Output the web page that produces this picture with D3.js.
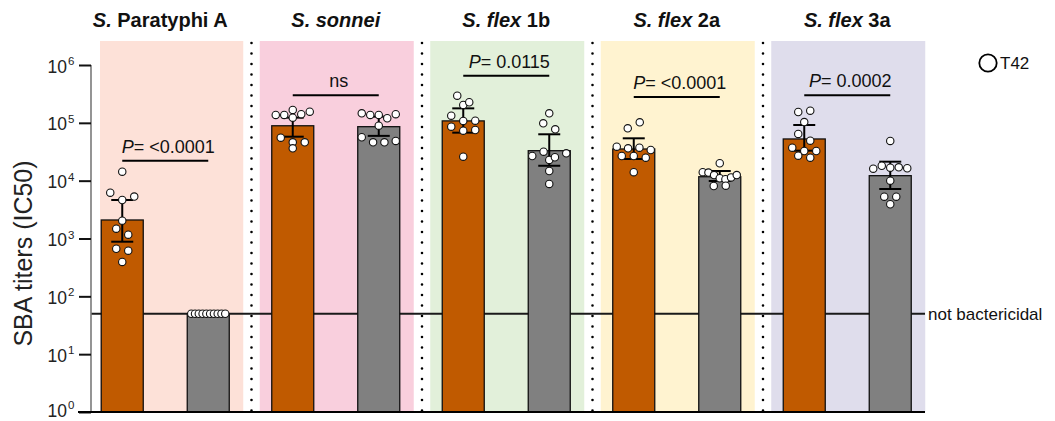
<!DOCTYPE html>
<html>
<head>
<meta charset="utf-8">
<script src="https://cdn.jsdelivr.net/npm/d3@7"></script>
<style>
  html, body { margin: 0; padding: 0; background: #fff; }
  svg { display: block; font-family: "Liberation Sans", Arial, sans-serif; }
</style>
</head>
<body>
<svg id="chart" width="1055" height="421"></svg>
<script>
// ---- data -------------------------------------------------------------
const groups = ["S. Paratyphi A", "S. sonnei", "S. flex 1b", "S. flex 2a", "S. flex 3a"];
// title pieces: [text, italic]
const titleParts = [
  [["S.", true], [" Paratyphi A", false]],
  [["S. sonnei", true]],
  [["S. flex", true], [" 1b", false]],
  [["S. flex", true], [" 2a", false]],
  [["S. flex", true], [" 3a", false]]
];
const series = ["seriesA", "seriesB"];

// geometric means (bars)
const barA = [2090, 89000, 108000, 35300, 52600];
const barB = [50, 85800, 33000, 11700, 12200];
// 95% CI of the geometric mean
const ciLowA  = [880, 57600, 67600, 23700, 33000];
const ciHighA = [4630, 123000, 178000, 54000, 91800];
const ciLowB  = [null, 59500, 18100, 9870, 7180];
const ciHighB = [null, 128000, 63400, 14700, 21300];

// individual titers
const pointsA = [
  [14300, 6200, 4630, 5300, 2030, 1480, 1165, 665, 615, 393],
  [137000, 137000, 167000, 123000, 141000, 156000, 55400, 46100, 46100, 36300],
  [295000, 204000, 227000, 133000, 108000, 109000, 85700, 73100, 75200, 26000],
  [80500, 102000, 38700, 36300, 37200, 33900, 26700, 26700, 25000, 14000],
  [154000, 162000, 103000, 64200, 49100, 37200, 32600, 32600, 27000, 25000]
];
const pointsB = [
  [50, 50, 50, 50, 50, 50, 50, 50, 50, 50],
  [146000, 137000, 137000, 120000, 141000, 89300, 56300, 46100, 46100, 48600],
  [146000, 98200, 77300, 26700, 31700, 22800, 25400, 29700, 14700, 8770],
  [20000, 14000, 13800, 12500, 11000, 10600, 11400, 12500, 8090, 8190],
  [48600, 16100, 18100, 16800, 17000, 16400, 10000, 5280, 5280, 3910]
];

// comparison brackets
const pLabels = ["<0.0001", "ns", "0.0115", "<0.0001", "0.0002"];
const bracketLevel = [22000, 300000, 650000, 280000, 300000];

const tickExponents = [0, 1, 2, 3, 4, 5, 6];
const detectionLimit = 50;
const limitLabel = "not bactericidal";
const legendLabel = "T42";
const yTitle = "SBA titers (IC50)";

// ---- styles -----------------------------------------------------------
const panelColors = ["#FDE1D8", "#F9CFDD", "#E2F0DA", "#FFF3D0", "#DFDDEC"];
const seriesColors = { seriesA: "#C05A00", seriesB: "#808080" };

// ---- scales -----------------------------------------------------------
const svg = d3.select("#chart");
const y = d3.scaleLog().domain([1, 1e6]).range([412, 65]);
const x = d3.scaleBand().domain(groups).range([80, 932.5]).padding(0);
const step = x.bandwidth();
const cx = g => x(g) + step / 2;
const sub = d3.scalePoint().domain(series).range([-43, 43]);
const barW = 42;
const plotTop = 41, plotBottom = 412, axisX = 91;

const rows = groups.map((g, i) => ({
  g, i,
  bars: [
    { s: "seriesA", mean: barA[i], lo: ciLowA[i], hi: ciHighA[i], pts: pointsA[i] },
    { s: "seriesB", mean: barB[i], lo: ciLowB[i], hi: ciHighB[i], pts: pointsB[i] }
  ]
}));

// ---- background panels ------------------------------------------------
svg.append("g").selectAll("rect").data(rows).join("rect")
  .attr("x", d => Math.max(cx(d.g) - 76, axisX + 9))
  .attr("y", plotTop)
  .attr("width", d => cx(d.g) + 78 - Math.max(cx(d.g) - 76, axisX + 9))
  .attr("height", plotBottom - plotTop)
  .attr("fill", (d, i) => panelColors[i]);

// dotted separators between panels
svg.append("g").selectAll("line").data(groups.slice(1)).join("line")
  .attr("x1", g => x(g) + 1).attr("x2", g => x(g) + 1)
  .attr("y1", plotTop + 2).attr("y2", plotBottom)
  .attr("stroke", "#000").attr("stroke-width", 2.6)
  .attr("stroke-linecap", "round")
  .attr("stroke-dasharray", "0 10.5");

// detection limit line (behind bars)
svg.append("line")
  .attr("x1", axisX).attr("x2", 925)
  .attr("y1", y(detectionLimit)).attr("y2", y(detectionLimit))
  .attr("stroke", "#1a1a1a").attr("stroke-width", 2);
svg.append("text")
  .attr("x", 928).attr("y", y(detectionLimit) + 6)
  .attr("font-size", 17).attr("fill", "#111")
  .text(limitLabel);

// ---- bars -------------------------------------------------------------
const gBars = svg.append("g");
rows.forEach(r => {
  r.bars.forEach(b => {
    const bx = cx(r.g) + sub(b.s);
    gBars.append("rect")
      .attr("x", bx - barW / 2).attr("y", y(b.mean))
      .attr("width", barW).attr("height", y(1) - y(b.mean))
      .attr("fill", seriesColors[b.s])
      .attr("stroke", "#111").attr("stroke-width", 1.3);
  });
});

// ---- error bars -------------------------------------------------------
const gErr = svg.append("g").attr("stroke", "#000").attr("stroke-width", 2);
rows.forEach(r => {
  r.bars.forEach(b => {
    if (b.lo == null) return;
    const bx = cx(r.g) + sub(b.s);
    gErr.append("line").attr("x1", bx).attr("x2", bx).attr("y1", y(b.hi)).attr("y2", y(b.lo));
    [b.hi, b.lo].forEach(v => {
      gErr.append("line").attr("x1", bx - 11).attr("x2", bx + 11).attr("y1", y(v)).attr("y2", y(v));
    });
  });
});

// ---- scatter points (rows of overlapping points spread horizontally) ----
function spread(values) {
  const items = values.map((v, k) => ({ v, k, py: y(v) }));
  const sorted = items.slice().sort((a, b) => a.py - b.py || a.k - b.k);
  const groupsOfRows = [];
  let cur = null;
  sorted.forEach(it => {
    if (!cur || it.py - cur.start >= 7.5) {
      cur = { start: it.py, items: [] };
      groupsOfRows.push(cur);
    }
    cur.items.push(it);
  });
  groupsOfRows.forEach(row => {
    const n = row.items.length;
    const gap = n > 1 ? Math.min(12, 34 / (n - 1)) : 0;
    row.items.sort((a, b) => a.k - b.k);
    row.items.forEach((it, j) => { it.dx = (j - (n - 1) / 2) * gap; });
  });
  return items;
}
const gPts = svg.append("g");
rows.forEach(r => {
  r.bars.forEach(b => {
    const bx = cx(r.g) + sub(b.s);
    spread(b.pts).forEach(p => {
      gPts.append("circle")
        .attr("cx", bx + p.dx).attr("cy", p.py).attr("r", 3.7)
        .attr("fill", "#fff").attr("stroke", "#111").attr("stroke-width", 1.1);
    });
  });
});

// ---- axes -------------------------------------------------------------
const tickVals = tickExponents.map(e => Math.pow(10, e));
const yAxis = svg.append("g")
  .attr("transform", `translate(${axisX},0)`)
  .call(d3.axisLeft(y).tickValues(tickVals).tickSize(12).tickFormat(""));
yAxis.select(".domain").attr("stroke", "#7a7a7a").attr("stroke-width", 1.6)
  .attr("d", `M0,${y(1e6)}V${plotBottom}`);
yAxis.selectAll(".tick line").attr("stroke", "#111").attr("stroke-width", 2);

// tick labels as 10 with a superscript exponent; the lowest one is kept inside the frame
const lab = svg.append("g").attr("fill", "#222");
tickExponents.forEach(e => {
  const ty = y(Math.pow(10, e));
  const base = Math.min(ty + 7.5, 416.5);
  lab.append("text")
    .attr("x", 67).attr("y", base)
    .attr("text-anchor", "end").attr("font-size", 17.5).text("10");
  lab.append("text")
    .attr("x", 68).attr("y", base - 7.5)
    .attr("font-size", 11.5).text(e);
});

// baseline
svg.append("line")
  .attr("x1", 78).attr("x2", 925).attr("y1", plotBottom).attr("y2", plotBottom)
  .attr("stroke", "#000").attr("stroke-width", 2.2);

// y title
svg.append("text")
  .attr("transform", `translate(32,${(plotTop + plotBottom) / 2 + 27}) rotate(-90)`)
  .attr("text-anchor", "middle").attr("font-size", 25).attr("fill", "#222")
  .text(yTitle);

// ---- group titles -----------------------------------------------------
rows.forEach((r, i) => {
  const t = svg.append("text")
    .attr("x", cx(r.g) - (i === 0 ? 5 : 0)).attr("y", 27)
    .attr("text-anchor", "middle").attr("font-size", 20).attr("font-weight", "bold")
    .attr("fill", "#111");
  titleParts[i].forEach(([txt, it]) => {
    t.append("tspan").attr("font-style", it ? "italic" : "normal").text(txt);
  });
});

// ---- comparison brackets ----------------------------------------------
rows.forEach((r, i) => {
  const x1 = cx(r.g) + sub("seriesA"), x2 = cx(r.g) + sub("seriesB");
  const ly = y(bracketLevel[i]);
  svg.append("line").attr("x1", x1).attr("x2", x2).attr("y1", ly).attr("y2", ly)
    .attr("stroke", "#000").attr("stroke-width", 2);
  const t = svg.append("text")
    .attr("x", (x1 + x2) / 2 + 3).attr("y", ly - 8)
    .attr("text-anchor", "middle").attr("font-size", 18).attr("fill", "#111");
  if (pLabels[i] === "ns") {
    t.text("ns");
  } else {
    t.append("tspan").attr("font-style", "italic").text("P");
    t.append("tspan").text("= " + pLabels[i]);
  }
});

// ---- legend -----------------------------------------------------------
svg.append("circle").attr("cx", 988).attr("cy", 63).attr("r", 8.7)
  .attr("fill", "#fff").attr("stroke", "#000").attr("stroke-width", 1.8);
svg.append("text").attr("x", 1000).attr("y", 69)
  .attr("font-size", 17).attr("fill", "#111").text(legendLabel);
</script>
</body>
</html>
